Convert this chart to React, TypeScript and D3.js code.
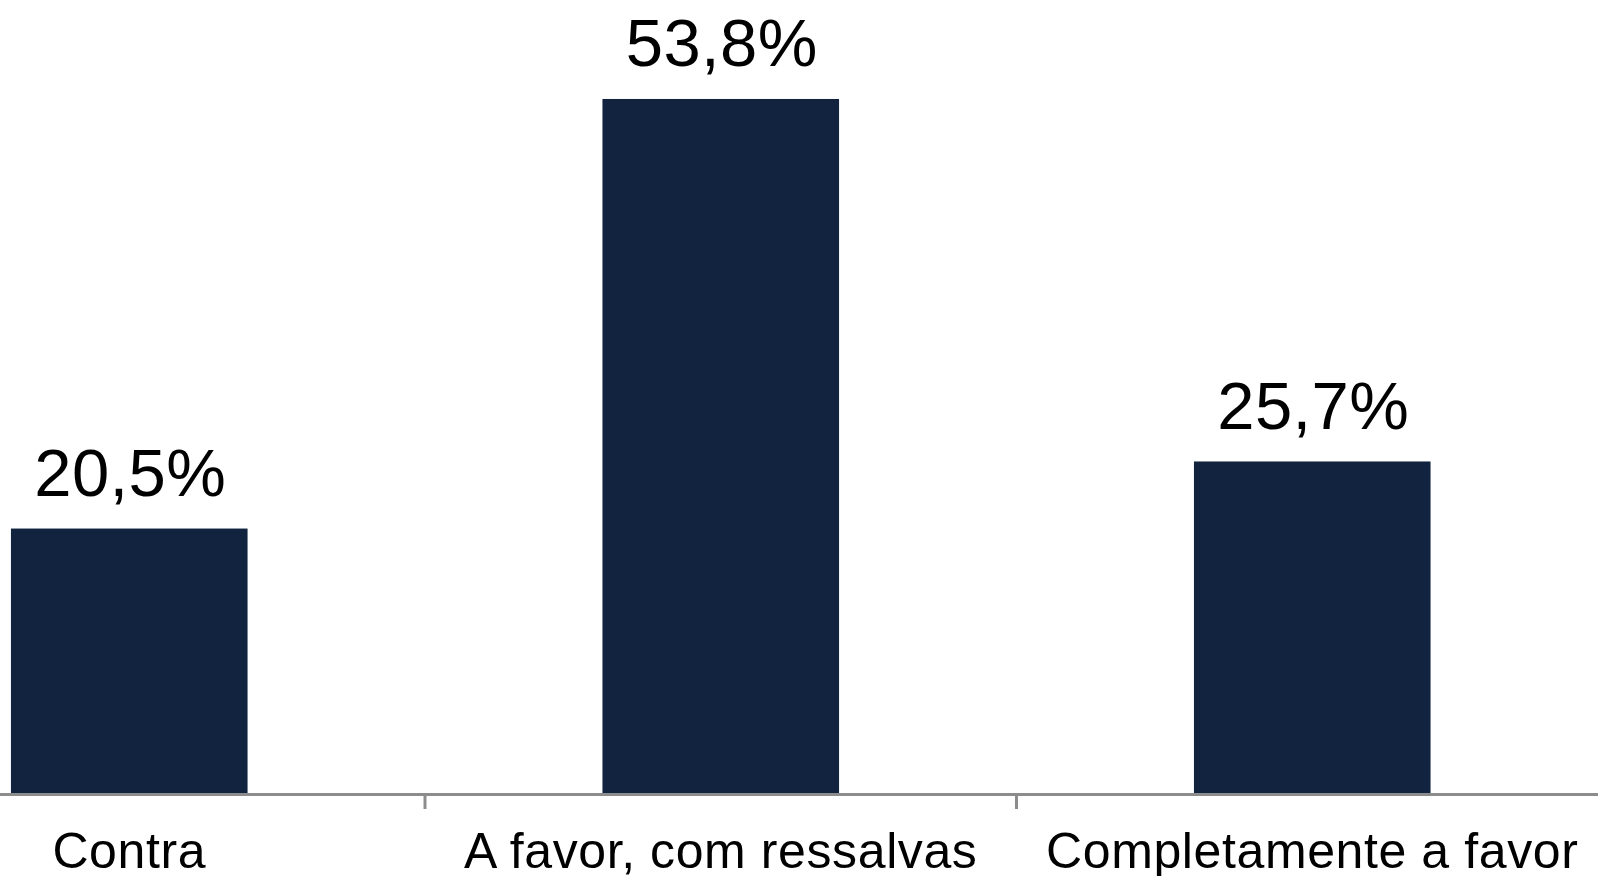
import React from "react";
import * as d3 from "d3";

const categories: string[] = ["Contra", "A favor, com ressalvas", "Completamente a favor"];
const values: number[] = [20.5, 53.8, 25.7];
const valueLabels: string[] = ["20,5%", "53,8%", "25,7%"];

const W = 1598;
const H = 876;

export default function App() {
  const step = 591.5;
  const x0 = -166.5;
  const x = d3
    .scaleBand<string>()
    .domain(categories)
    .range([x0, x0 + step * 3])
    .paddingInner(0.6)
    .paddingOuter(0.3);
  const y = d3.scaleLinear().domain([0, 60]).range([793, 793 - 60 * 12.9]);
  const bw = x.bandwidth();
  const gap = x.step() - bw;
  const font = "'Liberation Sans', Arial, sans-serif";
  const axisColor = "#8c8c8c";
  const barColor = "#11233e";

  return (
    <svg
      width={W}
      height={H}
      style={{ position: "absolute", left: 0, top: 0, background: "#fff" }}
    >
      {categories.map((c, i) => (
        <rect
          key={c}
          x={x(c)!}
          y={y(values[i])}
          width={bw}
          height={y(0) - y(values[i])}
          fill={barColor}
        />
      ))}
      {categories.map((c, i) => (
        <text
          key={"v" + c}
          x={x(c)! + bw / 2 + 1}
          y={y(values[i]) - 32.5}
          textAnchor="middle"
          fontFamily={font}
          fontSize={67}
          letterSpacing={0.4}
          fill="#000"
        >
          {valueLabels[i]}
        </text>
      ))}
      <line x1={0} x2={W} y1={794.5} y2={794.5} stroke={axisColor} strokeWidth={3} />
      {categories.slice(0, -1).map((c) => {
        const tx = x(c)! + bw + gap / 2;
        return (
          <line key={"t" + c} x1={tx} x2={tx} y1={796} y2={809} stroke={axisColor} strokeWidth={3} />
        );
      })}
      {categories.map((c) => (
        <text
          key={"c" + c}
          x={x(c)! + bw / 2}
          y={867.5}
          textAnchor="middle"
          fontFamily={font}
          fontSize={50}
          letterSpacing={0.6}
          fill="#000"
        >
          {c}
        </text>
      ))}
    </svg>
  );
}
